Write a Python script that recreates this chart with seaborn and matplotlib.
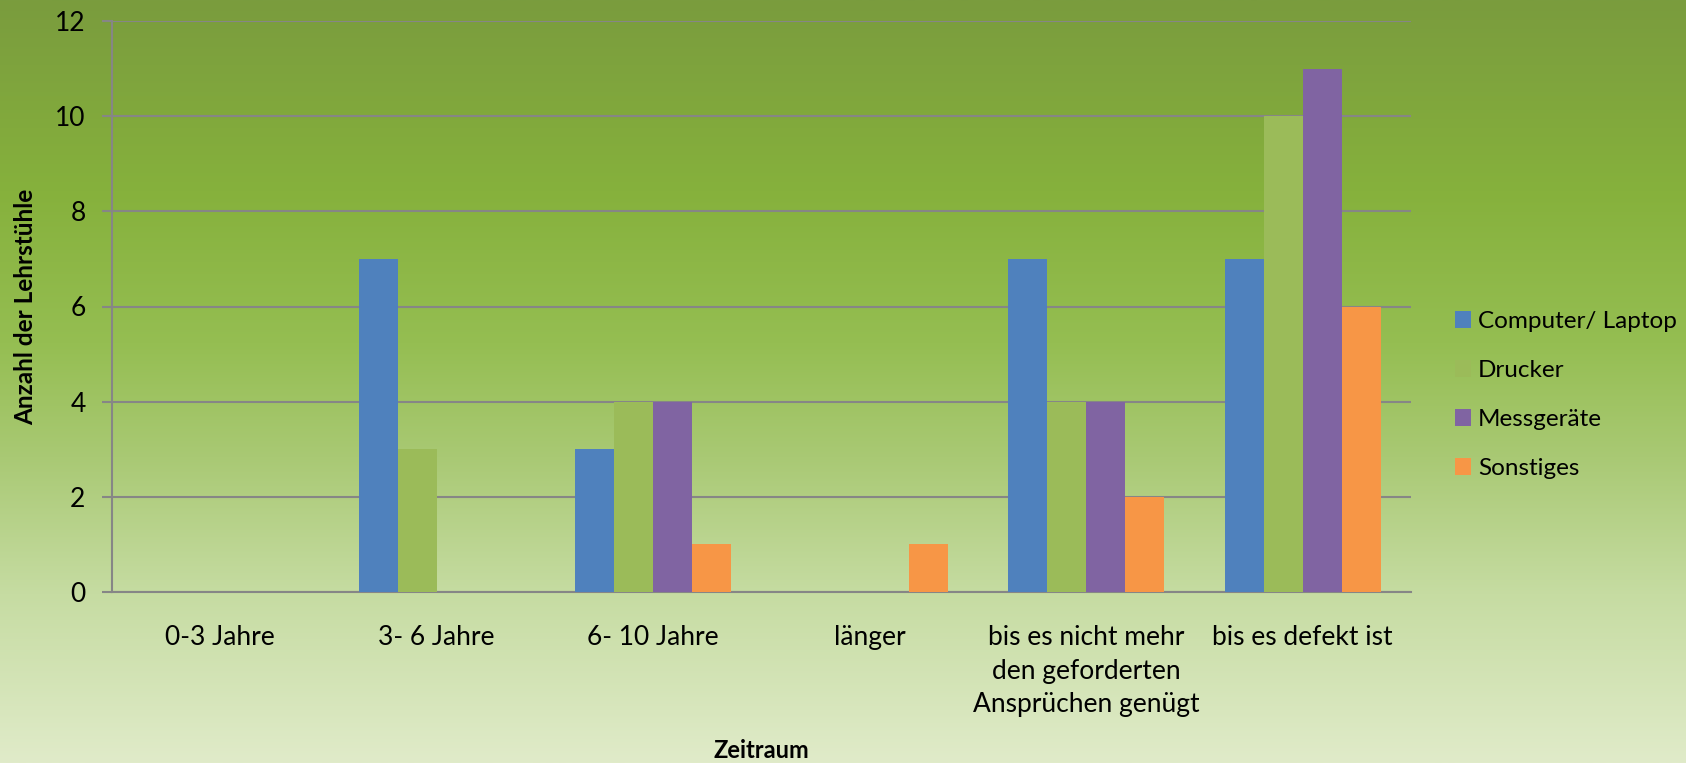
import numpy as np
import pandas as pd
import matplotlib
matplotlib.use("Agg")
import matplotlib.pyplot as plt
from matplotlib.colors import LinearSegmentedColormap
import seaborn as sns

# --- DATEN ---
zeitraum = ['0-3 Jahre', '3- 6 Jahre', '6- 10 Jahre', 'länger',
            'bis es nicht mehr\nden geforderten\nAnsprüchen genügt', 'bis es defekt ist']
geraete = ['Computer/ Laptop', 'Drucker', 'Messgeräte', 'Sonstiges']
computer = [0, 7, 3, 0, 7, 7]
drucker = [0, 3, 4, 0, 4, 10]
messgeraete = [0, 0, 4, 0, 4, 11]
sonstiges = [0, 0, 1, 1, 2, 6]
farben = ['#4F81BD', '#9BBB59', '#8064A2', '#F79646']

df = pd.DataFrame({
    'Zeitraum': zeitraum * 4,
    'Gerät': [g for g in geraete for _ in zeitraum],
    'Anzahl': computer + drucker + messgeraete + sonstiges,
})

sns.set_theme(style="white")
plt.rcParams['font.family'] = ['Lato', 'DejaVu Sans']

fig = plt.figure(figsize=(16.86, 7.63), dpi=100)

# Hintergrund-Verlauf
bg = fig.add_axes([0, 0, 1, 1], zorder=-10)
cmap = LinearSegmentedColormap.from_list('bg', [
    (0.0, '#7a9c3e'), (0.25, '#86b13c'), (0.45, '#95be52'),
    (0.6, '#a9c974'), (0.78, '#c6dca2'), (1.0, '#e0ebc9')])
bg.imshow(np.linspace(0, 1, 256).reshape(-1, 1), aspect='auto', cmap=cmap,
          extent=[0, 1, 0, 1])
bg.axis('off')

ax = fig.add_axes([112 / 1686, 1 - 592 / 763, (1411 - 112) / 1686, (592 - 21) / 763])
ax.set_facecolor('none')

sns.barplot(data=df, x='Zeitraum', y='Anzahl', hue='Gerät', palette=farben,
            width=0.72, saturation=1, linewidth=0, ax=ax, zorder=3)

ax.set_ylim(0, 12)
ax.set_xlim(-0.5, 5.5)
ax.set_yticks(range(0, 13, 2))
ax.yaxis.grid(True, color='#868686', linewidth=1.5, zorder=0)
ax.set_axisbelow(True)
for s in ['top', 'right']:
    ax.spines[s].set_visible(False)
for s in ['left', 'bottom']:
    ax.spines[s].set_color('#868686')
    ax.spines[s].set_linewidth(1.5)
ax.tick_params(axis='y', left=True, length=7, width=1.5, color='#868686',
               labelsize=19, pad=12, labelcolor='black')
ax.tick_params(axis='x', bottom=False, labelsize=19, pad=18, labelcolor='black')
for lbl in ax.get_xticklabels():
    lbl.set_linespacing(1.42)
    lbl.set_verticalalignment('top')

ax.set_xlabel('')
fig.text(761 / 1686, 1 - 750 / 763, 'Zeitraum', fontsize=17, fontweight='bold',
         color='black', ha='center', va='center')
ax.set_ylabel('Anzahl der Lehrstühle', fontsize=17.5, fontweight='bold', color='black')
ax.yaxis.set_label_coords(-0.058, 0.5)

leg = ax.legend(loc='center left', bbox_to_anchor=(1.017, 0.345), frameon=False,
                fontsize=17.5, handlelength=0.65, handleheight=0.65, handletextpad=0.3,
                labelspacing=1.15)
for t in leg.get_texts():
    t.set_color('black')

fig.savefig('out.png', dpi=100)
